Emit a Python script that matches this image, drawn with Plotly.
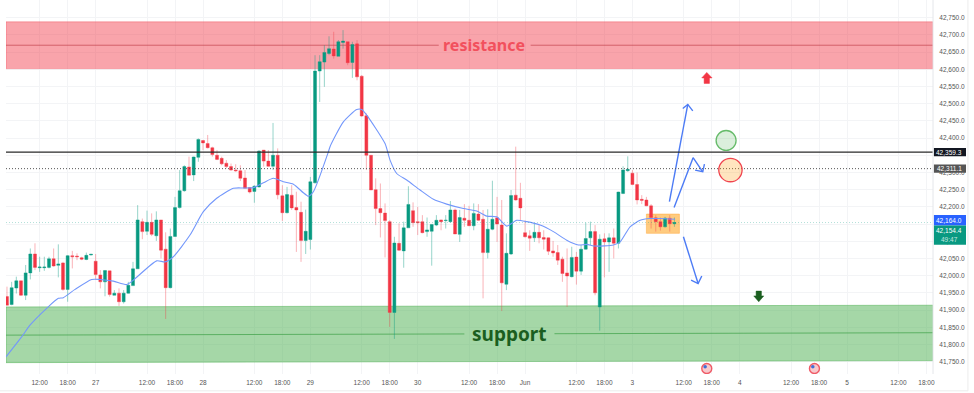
import plotly.graph_objects as go

# --- candle data (hourly) ---
opens = [41939,41916,41964,41985,41943,42008,42063,42023,42023,42024,42049,42030,42037,41960,42058,42057,42052,42047,42060,42042,
42002,41982,42014,41943,41949,41924,41949,41971,42020,42157,42129,42155,42116,42162,42077,41965,42114,42198,42247,42316,
42293,42344,42393,42384,42372,42350,42341,42327,42317,42307,42305,42284,42256,42245,42258,42365,42333,42318,42350,42232,
42183,42234,42198,42184,42102,42105,42270,42595,42621,42646,42659,42638,42678,42680,42620,42674,42580,42465,42350,42250,
42195,42182,42157,41893,42094,42072,42139,42189,42157,42157,42128,42129,42147,42162,42160,42157,42191,42120,42167,42161,
42145,42179,42164,42067,42135,42168,42147,41975,42063,42234,42225,42125,42116,42110,42126,42111,42110,42072,42067,42048,
42008,41997,42054,42013,42077,42110,42128,41909,42107,42098,42110,42094,42239,42305,42298,42265,42222,42220,42203,42168,
42157,42142,42167,42151]
highs = [41968,41982,41997,41985,42031,42079,42094,42055,42055,42055,42079,42091,42040,42060,42072,42065,42055,42067,42063,42063,
42016,42016,42014,41958,41963,41958,41982,42040,42205,42166,42189,42181,42187,42162,42126,42137,42229,42307,42321,42346,
42346,42399,42394,42409,42375,42365,42346,42336,42326,42324,42321,42307,42258,42263,42365,42365,42365,42444,42370,42263,
42258,42263,42244,42215,42192,42287,42641,42641,42670,42696,42709,42685,42714,42680,42680,42685,42583,42472,42350,42283,
42268,42210,42161,42113,42152,42157,42260,42213,42200,42176,42169,42150,42176,42163,42176,42217,42195,42191,42208,42203,
42210,42208,42191,42193,42276,42229,42220,42123,42249,42375,42270,42161,42132,42152,42147,42132,42111,42101,42089,42055,
42079,42084,42069,42089,42154,42157,42147,42120,42123,42123,42137,42244,42318,42347,42307,42300,42234,42229,42208,42176,
42169,42171,42176,42169]
lows = [41914,41914,41948,41941,41929,41989,42016,42011,42014,42021,42026,41995,41956,41924,42021,42045,42045,42045,42059,41989,
41963,41940,41939,41943,41912,41919,41948,41970,42020,42106,42118,42115,42101,42050,41874,41963,42113,42195,42244,42292,
42275,42331,42365,42370,42346,42336,42321,42312,42305,42302,42275,42254,42239,42212,42256,42317,42317,42307,42222,42159,
42181,42191,42069,42040,42063,42076,42268,42505,42549,42641,42631,42638,42660,42612,42575,42568,42462,42307,42249,42147,
42111,42053,41851,41816,42072,42023,42139,42142,42118,42123,42113,42029,42144,42132,42137,42154,42121,42098,42142,42145,
42132,42159,41934,42050,42132,42098,41897,41958,42060,42218,42161,42111,42072,42098,42094,42076,42060,42055,42031,41982,
41909,41995,41974,42002,42076,42089,41943,41840,41995,42011,42050,42079,42237,42302,42263,42207,42208,42202,42137,42128,
42131,42140,42128,42142]
closes = [41914,41965,41985,41943,42008,42063,42024,42025,42025,42049,42028,42034,41960,42058,42055,42055,42048,42059,42062,42003,
41982,42015,41945,41949,41924,41949,41972,42020,42162,42128,42155,42120,42162,42074,41965,42114,42198,42247,42317,42292,
42345,42396,42386,42372,42352,42338,42325,42317,42307,42305,42283,42254,42243,42260,42362,42333,42318,42350,42235,42183,
42236,42197,42191,42102,42129,42273,42595,42622,42649,42660,42639,42680,42682,42619,42672,42578,42464,42350,42249,42195,
42183,42160,41893,42095,42074,42139,42207,42154,42154,42125,42133,42149,42161,42157,42161,42191,42121,42169,42161,42145,
42181,42161,42067,42135,42164,42150,41979,42065,42233,42220,42197,42113,42109,42126,42110,42106,42071,42066,42045,42006,
41999,42053,42013,42077,42108,42128,41950,42106,42098,42110,42094,42243,42307,42309,42265,42220,42219,42203,42169,42157,
42142,42167,42151,42154.4]
candle_index = list(range(len(opens)))

# --- moving average, read at visible points ---
ma_index = [-0.21,3.14,4.93,8.5,11,12.07,14.57,18.14,19.93,22.79,25.64,27.07,32.07,33.86,35.64,39.21,42.07,44.93,48.5,50.64,
52.79,54.93,57.07,59.21,61.36,63.5,64.57,65.64,68.86,69.21,72.07,74.93,76,77.07,81,82.07,83.5,85.64,88.5,91.36,
94.21,97.79,100.64,102.79,104.93,107.07,109.21,111.36,114.21,117.07,119.93,122.43,124.21,126,129.93,131.36,133.5,135.64,137.79,139.93,143.14]
ma_values = [41764,41822,41856,41905,41934,41936,41960,41989,41989,41984,41974,41987,42043,42040,42055,42118,42186,42225,42254,42255,
42256,42270,42283,42273,42266,42241,42231,42244,42360,42375,42447,42483,42483,42467,42384,42336,42297,42278,42249,42222,
42208,42195,42188,42173,42171,42144,42161,42157,42147,42128,42103,42089,42091,42086,42089,42098,42142,42161,42166,42166,42164]

# --- axes ---
price_ticks = list(range(41750, 42801, 50))
hidden_price_labels = [42350, 42150]   # fully covered by the price tags in the reference
time_tick_pos = [7,13,19,30,36,42,53,59,65,76,82,88,99,105,111,122,128,134,145,151,157,168,174,180,191,197]
time_tick_text = ["12:00","18:00","27","12:00","18:00","28","12:00","18:00","29","12:00","18:00","30",
                  "12:00","18:00","Jun","12:00","18:00","3","12:00","18:00","4","12:00","18:00","5","12:00","18:00"]
x_left, x_right = -0.21, 198.4
y_low, y_high = 41714, 42801.5

# --- levels and drawings ---
resistance_top, resistance_bottom, resistance_mid = 42738, 42602, 42670
support_top = [41909, 41914]
support_bottom = [41747, 41753]
support_mid = [41827, 41834]
resistance_gap = [92.5, 112.2]
support_gap = [98.0, 117.3]
level_solid, level_dotted, last_price, ma_last = 42359.3, 42311.1, 42154.4, 42164.0
box_x, box_y = [137, 144.07], [42123, 42179]
arrow_up_x = [141.93,145.86]; arrow_up_y = [42215,42498]
arrow_up_head_x = [144.79,145.86,146.93]; arrow_up_head_y = [42486,42498,42479]
arrow_mid_x = [142.93,147,149.07]; arrow_mid_y = [42198,42343,42302]
arrow_mid_head_x = [147.43,149.07,149.43]; arrow_mid_head_y = [42307,42302,42324]
arrow_dn_x = [144.93,148.07]; arrow_dn_y = [42113,41977]
arrow_dn_head_x = [146.57,148.07,148.86]; arrow_dn_head_y = [41987,41977,41999]
circle_green = ([151.93,156.21],[42364,42422])
circle_red = ([152.5,157.5],[42273,42341])
flag_x = [149.93, 173.0]
flag_y = [41730, 41730]

GREEN, RED = "#089981", "#f23645"
ZONE_LAYER = "between"

fig = go.Figure()
fig.add_trace(go.Candlestick(
    x=candle_index, open=opens, high=highs, low=lows, close=closes,
    increasing=dict(line=dict(color="rgba(8,153,129,0.42)", width=1), fillcolor=GREEN),
    decreasing=dict(line=dict(color="rgba(242,54,69,0.38)", width=1), fillcolor=RED),
    whiskerwidth=0, showlegend=False, hoverinfo="skip"))
fig.add_trace(go.Scatter(x=ma_index, y=ma_values, mode="lines", showlegend=False, hoverinfo="skip",
                         line=dict(color="#7397fb", width=1.1, shape="spline", smoothing=0.6)))

def polyline(xs, ys):
    fig.add_trace(go.Scatter(x=xs, y=ys, mode="lines", showlegend=False, hoverinfo="skip",
                             line=dict(color="#4c7bf5", width=1.4)))
polyline(arrow_up_x, arrow_up_y); polyline(arrow_up_head_x, arrow_up_head_y)
polyline(arrow_mid_x, arrow_mid_y); polyline(arrow_mid_head_x, arrow_mid_head_y)
polyline(arrow_dn_x, arrow_dn_y); polyline(arrow_dn_head_x, arrow_dn_head_y)

fig.add_trace(go.Scatter(x=flag_x, y=flag_y, mode="markers", showlegend=False, hoverinfo="skip",
                         marker=dict(size=10, color="#f7c9cd", line=dict(color="#ef5a66", width=1.4))))
fig.add_trace(go.Scatter(x=[v - 0.35 for v in flag_x], y=[v + 5 for v in flag_y], mode="markers",
                         showlegend=False, hoverinfo="skip",
                         marker=dict(size=3.5, color="#3f6fd8")))

shapes = []
def rect(x0, x1, y0, y1, fill, line=None, lw=1, **kw):
    shapes.append(dict(type="rect", xref="x", yref="y", x0=x0, x1=x1, y0=y0, y1=y1,
                       fillcolor=fill, line=dict(color=line or "rgba(0,0,0,0)", width=lw), **kw))
def hline(x0, x1, y0, y1, color, width=1, dash="solid", layer="above"):
    shapes.append(dict(type="line", xref="x", yref="y", x0=x0, x1=x1, y0=y0, y1=y1, layer=layer,
                       line=dict(color=color, width=width, dash=dash)))

rect(x_left, x_right, resistance_bottom, resistance_top, "rgba(242,54,69,0.45)", "rgba(242,54,69,0.35)", layer=ZONE_LAYER)
hline(x_left, resistance_gap[0], resistance_mid, resistance_mid, "rgba(190,60,70,0.65)", 1, layer=ZONE_LAYER)
hline(resistance_gap[1], x_right, resistance_mid, resistance_mid, "rgba(190,60,70,0.65)", 1, layer=ZONE_LAYER)

shapes.append(dict(type="path", xref="x", yref="y", layer=ZONE_LAYER,
    path=f"M {x_left} {support_top[0]} L {x_right} {support_top[1]} L {x_right} {support_bottom[1]} L {x_left} {support_bottom[0]} Z",
    fillcolor="rgba(76,175,80,0.5)", line=dict(color="rgba(76,175,80,0.5)", width=1)))
t1 = (support_gap[0] - x_left) / (x_right - x_left)
t2 = (support_gap[1] - x_left) / (x_right - x_left)
mid_at = lambda t: support_mid[0] + (support_mid[1] - support_mid[0]) * t
hline(x_left, support_gap[0], support_mid[0], mid_at(t1), "rgba(60,160,70,0.7)", 1, layer=ZONE_LAYER)
hline(support_gap[1], x_right, mid_at(t2), support_mid[1], "rgba(60,160,70,0.7)", 1, layer=ZONE_LAYER)

hline(x_left, x_right, level_solid, level_solid, "#2a2a2a", 1.4)
hline(x_left, x_right, level_dotted, level_dotted, "#555555", 1, "1px,2px")
hline(x_left, x_right, last_price, last_price, "rgba(8,153,129,0.3)", 1, "1px,2px")

rect(box_x[0], box_x[1], box_y[0], box_y[1], "rgba(255,152,0,0.5)", "rgba(255,170,60,0.5)", layer=ZONE_LAYER)
shapes.append(dict(type="circle", xref="x", yref="y", x0=circle_green[0][0], x1=circle_green[0][1],
                   y0=circle_green[1][0], y1=circle_green[1][1], fillcolor="rgba(76,175,80,0.2)",
                   line=dict(color="#66bb6a", width=1.3)))
shapes.append(dict(type="circle", xref="x", yref="y", x0=circle_red[0][0], x1=circle_red[0][1],
                   y0=circle_red[1][0], y1=circle_red[1][1], fillcolor="rgba(255,152,0,0.25)",
                   line=dict(color="#f0444f", width=1.3)))

# block arrows
shapes.append(dict(type="path", xref="x", yref="y",
    path="M 149.93 42591 L 151.07 42575 L 150.5 42575 L 150.5 42559 L 149.36 42559 L 149.36 42575 L 148.86 42575 Z",
    fillcolor=RED, line=dict(color=RED, width=0.5)))
shapes.append(dict(type="path", xref="x", yref="y",
    path="M 161.07 41924 L 162.14 41941 L 161.64 41941 L 161.64 41955 L 160.5 41955 L 160.5 41941 L 160 41941 Z",
    fillcolor="#1b5e20", line=dict(color="#1b5e20", width=0.5)))

# frame lines
shapes.append(dict(type="line", xref="paper", yref="paper", x0=1, x1=1, y0=0, y1=1, line=dict(color="#e4e6ea", width=1)))
shapes.append(dict(type="line", xref="paper", yref="paper", x0=1.0377, x1=1.0377, y0=-0.045, y1=1, line=dict(color="#ececec", width=1)))
shapes.append(dict(type="line", xref="paper", yref="paper", x0=-0.0065, x1=1.0377, y0=-0.045, y1=-0.045, line=dict(color="#ececec", width=1)))

# price tags on the scale
def tag(y0, y1, color):
    shapes.append(dict(type="rect", xref="paper", yref="y", x0=1.001, x1=1.0356, y0=y0, y1=y1,
                       fillcolor=color, line=dict(width=0), layer="above"))
tag(level_solid - 12, level_solid + 12, "#131722")
tag(level_dotted - 12, level_dotted + 12, "#555555")
tag(42146, 42176, "#2962ff")
tag(42090, 42146, "#089981")

def tag_text(y, text, italic=False, color="white"):
    return dict(xref="paper", yref="y", x=1.0175, y=y, text=f"<i>{text}</i>" if italic else text, showarrow=False,
                xanchor="center", yanchor="middle", font=dict(family="Liberation Sans", size=6.5, color=color))

annotations = [
    tag_text(level_solid, "42,359.3"),
    tag_text(level_dotted, "42,311.1"),
    tag_text(42161, "42,164.0"),
    tag_text(42131, "42,154.4"),
    tag_text(42106, "49:47", color="#c5e8e0"),
    dict(xref="x", yref="y", x=102.3, y=resistance_mid, text="<b>resistance</b>", showarrow=False,
         font=dict(family="Noto Sans", size=16, color="#f2505d")),
    dict(xref="x", yref="y", x=107.6, y=41830, text="<b>support</b>", showarrow=False,
         font=dict(family="Noto Sans", size=19, color="#1b5e20")),
]

fig.update_layout(
    width=974, height=393, autosize=False,
    margin=dict(l=6, r=41, t=0, b=19),
    paper_bgcolor="white", plot_bgcolor="white", showlegend=False,
    boxgap=0.2, boxgroupgap=0.2,
    shapes=shapes, annotations=annotations,
    xaxis=dict(range=[x_left, x_right], rangeslider=dict(visible=False), tickmode="array",
               tickvals=time_tick_pos, ticktext=time_tick_text, showgrid=True, gridcolor="#f3f4f6", gridwidth=1,
               zeroline=False, showline=False, ticks="outside", ticklen=2, tickcolor="rgba(0,0,0,0)", tickangle=0,
               tickfont=dict(family="Liberation Sans", size=6.5, color="#555555")),
    yaxis=dict(range=[y_low, y_high], side="right", tickmode="array", tickvals=price_ticks,
               ticktext=["" if v in hidden_price_labels else f"{v:,.1f}" for v in price_ticks],
               showgrid=True, gridcolor="#f3f4f6", gridwidth=1,
               zeroline=False, showline=False, ticks="outside", ticklen=4, tickcolor="rgba(0,0,0,0)",
               tickfont=dict(family="Liberation Sans", size=6.5, color="#555555")),
)
fig.write_html("out.html", post_script="document.body.style.margin='0';", config={"displayModeBar": False})
